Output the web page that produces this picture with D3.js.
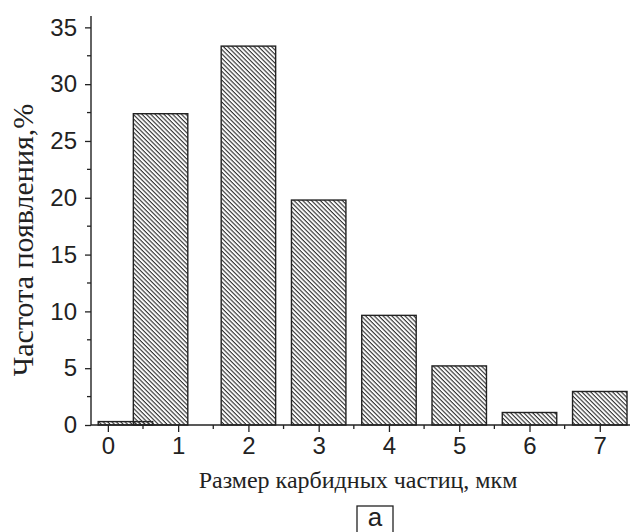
<!DOCTYPE html>
<html>
<head>
<meta charset="utf-8">
<script src="https://d3js.org/d3.v7.min.js"></script>
<style>
  body { margin: 0; background: #fff; }
  .tick text { font-family: "Liberation Sans", Arial, sans-serif; font-size: 24px; fill: #222; }
  .ttl { font-family: "Liberation Serif", "Times New Roman", serif; fill: #222; }
</style>
</head>
<body>
<script>
// particle size (bin centre, um) and frequency (%)
var sizes = [0.25, 0.75, 2, 3, 4, 5, 6, 7];
var freq = [0.3, 27.4, 33.35, 19.8, 9.65, 5.2, 1.1, 2.95];
var xTicks = [0, 1, 2, 3, 4, 5, 6, 7];
var yTicks = [0, 5, 10, 15, 20, 25, 30, 35];
var barWidth = 0.775;

var W = 633, H = 532;
var svg = d3.select("body").append("svg")
    .attr("width", W).attr("height", H);

var x = d3.scaleLinear().domain([-0.24, 7.43]).range([91, 630]);
var y = d3.scaleLinear().domain([0, 36]).range([425, 16]);

// hatch
var defs = svg.append("defs");
defs.append("pattern")
    .attr("id", "hatch")
    .attr("patternUnits", "userSpaceOnUse")
    .attr("width", 3.1).attr("height", 10)
    .attr("patternTransform", "rotate(-45)")
  .append("line")
    .attr("x1", 1).attr("y1", -1).attr("x2", 1).attr("y2", 11)
    .attr("stroke", "#333").attr("stroke-width", 1.15);

svg.selectAll("rect.bar")
  .data(sizes)
  .enter().append("rect")
    .attr("class", "bar")
    .attr("x", function(d) { return x(d - barWidth / 2); })
    .attr("width", function(d) { return x(barWidth) - x(0); })
    .attr("y", function(d, i) { return y(freq[i]); })
    .attr("height", function(d, i) { return y(0) - y(freq[i]); })
    .attr("fill", "url(#hatch)")
    .attr("stroke", "#222")
    .attr("stroke-width", 1.4);

// axes
var xAxis = d3.axisBottom(x).tickValues(xTicks).tickSize(7).tickPadding(5).tickSizeOuter(0);
var yAxis = d3.axisLeft(y).tickValues(yTicks).tickSize(6).tickPadding(8).tickSizeOuter(0);

var gx = svg.append("g").attr("transform", "translate(0," + y(0) + ")").call(xAxis);
var gy = svg.append("g").attr("transform", "translate(" + x.range()[0] + ",0)").call(yAxis);

// minor ticks
var xMinor = xTicks.map(function(d) { return d + 0.5; }).filter(function(d) { return d < 7.43; });
gx.selectAll("line.minor").data(xMinor).enter().append("line")
    .attr("class", "minor")
    .attr("x1", function(d) { return x(d); }).attr("x2", function(d) { return x(d); })
    .attr("y1", 0).attr("y2", 4)
    .attr("stroke", "#222").attr("stroke-width", 1.3);
var yMinor = yTicks.map(function(d) { return d + 2.5; });
gy.selectAll("line.minor").data(yMinor).enter().append("line")
    .attr("class", "minor")
    .attr("y1", function(d) { return y(d); }).attr("y2", function(d) { return y(d); })
    .attr("x1", 0).attr("x2", -4)
    .attr("stroke", "#222").attr("stroke-width", 1.3);

[gx, gy].forEach(function(g) {
  g.select(".domain").attr("stroke", "#222").attr("stroke-width", 1.4);
  g.selectAll(".tick line").attr("stroke", "#222").attr("stroke-width", 1.3);
});
gx.select(".domain").attr("d", "M91,0H630");
gy.select(".domain").attr("d", "M0,16V425");

// titles
svg.append("text").attr("class", "ttl")
    .attr("transform", "translate(33,240) rotate(-90)")
    .attr("text-anchor", "middle")
    .style("font-size", "30px")
    .text("Частота появления,%");

svg.append("text").attr("class", "ttl")
    .attr("x", 358).attr("y", 488)
    .attr("text-anchor", "middle")
    .style("font-size", "24px")
    .text("Размер карбидных частиц, мкм");

// panel label
svg.append("rect")
    .attr("x", 357).attr("y", 506).attr("width", 36).attr("height", 34)
    .attr("fill", "none").attr("stroke", "#222").attr("stroke-width", 1.3);
svg.append("text")
    .attr("x", 375).attr("y", 526)
    .attr("text-anchor", "middle")
    .style("font-family", "'Liberation Sans Narrow', 'Liberation Sans', sans-serif")
    .style("font-size", "26px").style("fill", "#222")
    .text("a");
</script>
</body>
</html>
